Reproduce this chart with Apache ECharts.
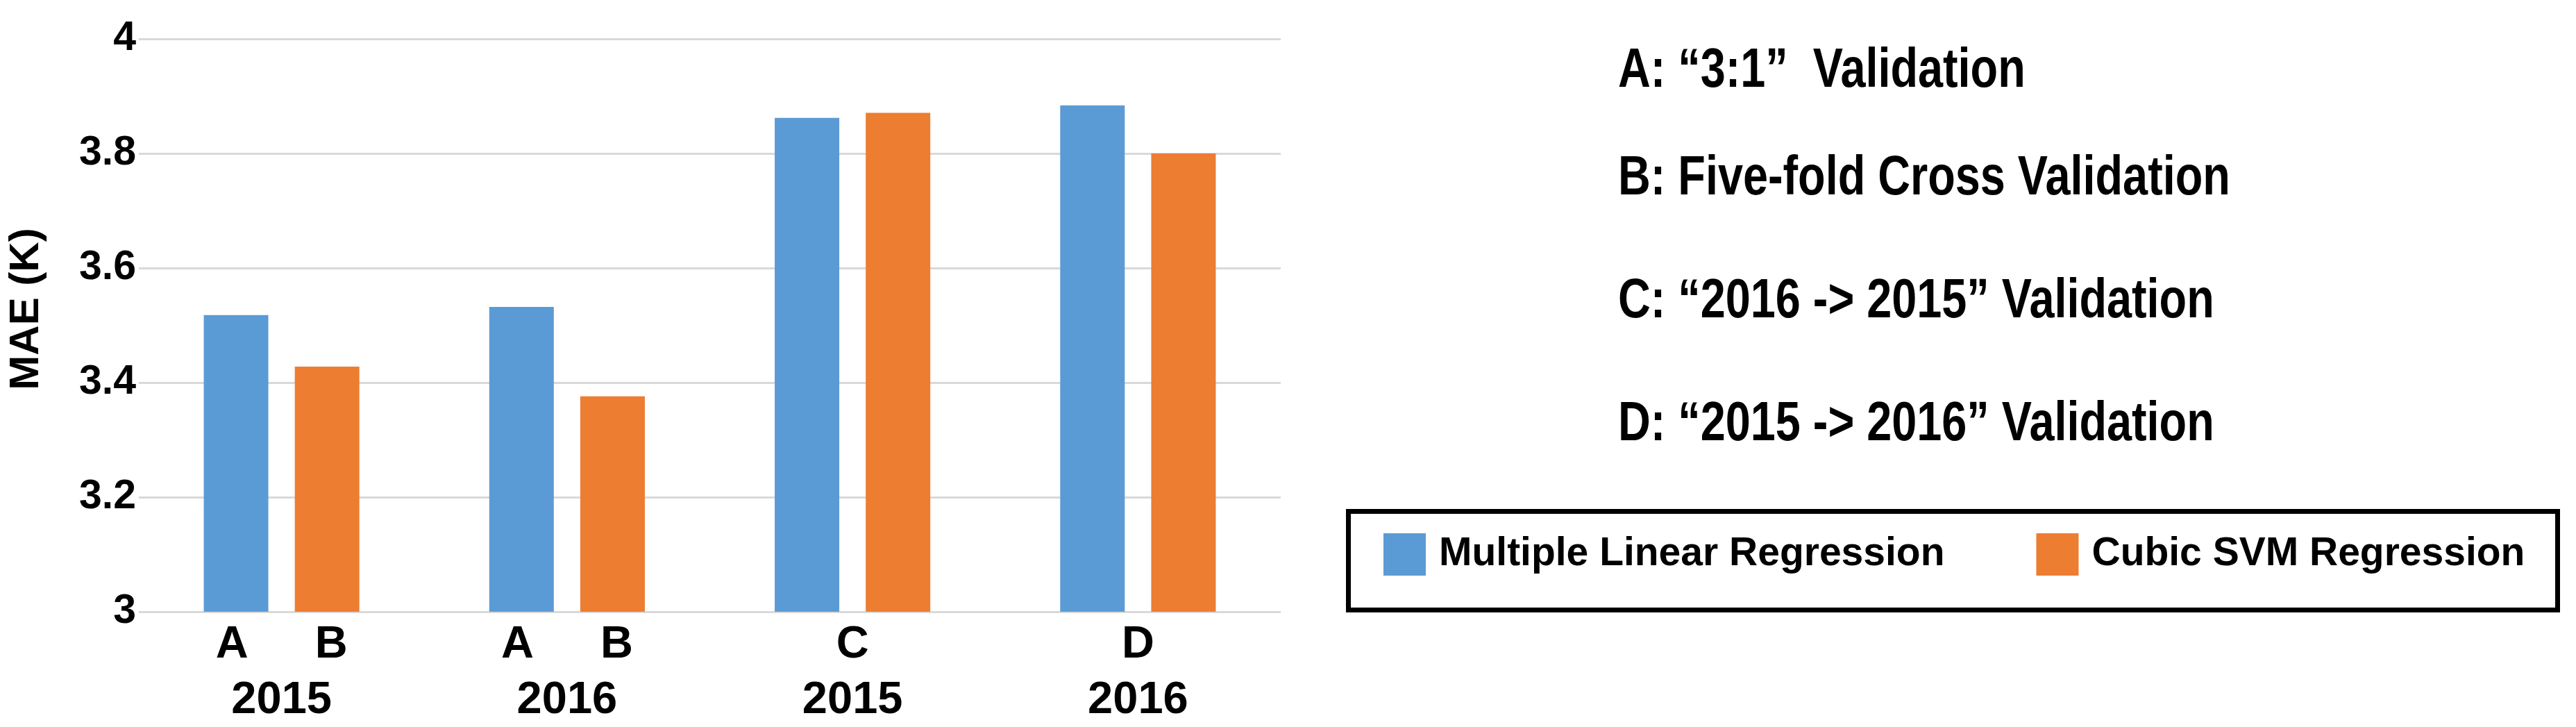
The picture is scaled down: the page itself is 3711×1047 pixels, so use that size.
<!DOCTYPE html>
<html>
<head>
<meta charset="utf-8">
<title>MAE chart</title>
<script src="https://cdn.jsdelivr.net/npm/echarts@6/dist/echarts.min.js"></script>
<style>
  html, body { margin: 0; padding: 0; background: #fff; }
  #chart { width: 3711px; height: 1047px; }
</style>
</head>
<body>
<div id="chart"></div>
<script>
// data
const years = ['2015', '2016', '2015', '2016']
const methods = [['A', 'B'], ['A', 'B'], ['C'], ['D']]
const mlrValues = [3.518, 3.532, 3.862, 3.884]
const svmValues = [3.428, 3.376, 3.871, 3.800]
const seriesNames = ['Multiple Linear Regression', 'Cubic SVM Regression']
const notes = [
  'A: \u201C3:1\u201D  Validation',
  'B: Five-fold Cross Validation',
  'C: \u201C2016 -> 2015\u201D Validation',
  'D: \u201C2015 -> 2016\u201D Validation'
]
const yTicks = { min: 3, max: 4, step: 0.2 }

// no narrow font installed, so sizes are picked to match the text widths
const font = "'Liberation Sans', Arial, sans-serif"
const colorList = ['#5b9bd5', '#ed7d31']
const noteY = [103, 258, 435, 612]

const chart = echarts.init(document.getElementById('chart'))
chart.setOption({
  backgroundColor: '#fff',
  animation: false,
  color: colorList,
  textStyle: { fontFamily: font, fontWeight: 'bold', color: '#000' },
  grid: {
    left: 200,
    width: 1645,
    top: 56,
    bottom: 166
  },
  legend: {
    left: 1993,
    top: 768,
    width: 1700,
    orient: 'horizontal',
    icon: 'rect',
    itemWidth: 61,
    itemHeight: 61,
    itemGap: 132,
    padding: 0,
    textStyle: {
      fontFamily: font,
      fontWeight: 'bold',
      fontSize: 57,
      color: '#000',
      padding: [8, 0, 0, 14]
    },
    data: seriesNames
  },
  xAxis: {
    type: 'category',
    data: years,
    axisLine: { show: false },
    axisTick: { show: false },
    axisLabel: {
      interval: 0,
      margin: 8,
      formatter(value, index) {
        const m = methods[index]
        const top = m.length > 1 ? '{l|' + m[0] + '}{r|' + m[1] + '}' : '{c|' + m[0] + '}'
        return top + '\n{y|' + value + '}'
      },
      rich: {
        l: { width: 143, align: 'center', fontSize: 65, lineHeight: 80, fontWeight: 'bold', fontFamily: font, color: '#000' },
        r: { width: 143, align: 'center', fontSize: 65, lineHeight: 80, fontWeight: 'bold', fontFamily: font, color: '#000' },
        c: { align: 'center', fontSize: 65, lineHeight: 80, fontWeight: 'bold', fontFamily: font, color: '#000' },
        y: { align: 'center', fontSize: 65, lineHeight: 80, fontWeight: 'bold', fontFamily: font, color: '#000' }
      }
    }
  },
  yAxis: {
    type: 'value',
    min: yTicks.min,
    max: yTicks.max,
    interval: yTicks.step,
    name: 'MAE (K)',
    nameLocation: 'middle',
    nameRotate: 90,
    nameGap: 132,
    nameTextStyle: {
      fontFamily: font,
      fontWeight: 'bold',
      fontSize: 60,
      color: '#000',
      padding: [0, 0, 0, 47]
    },
    axisLine: { show: false },
    axisTick: { show: false },
    axisLabel: {
      margin: 4,
      fontSize: 59,
      fontWeight: 'bold',
      fontFamily: font,
      color: '#000',
      padding: [0, 0, 28, 0]
    },
    splitLine: {
      show: true,
      lineStyle: { color: '#d9d9d9', width: 3 }
    }
  },
  series: [
    {
      name: seriesNames[0],
      type: 'bar',
      barWidth: 93,
      barGap: '41%',
      data: mlrValues
    },
    {
      name: seriesNames[1],
      type: 'bar',
      barWidth: 93,
      barGap: '41%',
      data: svmValues
    }
  ],
  graphic: [
    // legend frame
    {
      type: 'rect',
      shape: { x: 1942.5, y: 736.5, width: 1742, height: 142 },
      style: { fill: 'none', stroke: '#000', lineWidth: 7 },
      silent: true
    }
  ].concat(notes.map((t, i) => {
    // squeezed sideways to look like the narrow bold face of the original
    return {
      type: 'text',
      x: 2331,
      y: noteY[i],
      scaleX: 0.82,
      style: {
        text: t,
        x: 0,
        y: 0,
        verticalAlign: 'middle',
        fontFamily: font,
        fontWeight: 'bold',
        fontSize: 79,
        fill: '#000'
      }
    }
  }))
})
</script>
</body>
</html>
